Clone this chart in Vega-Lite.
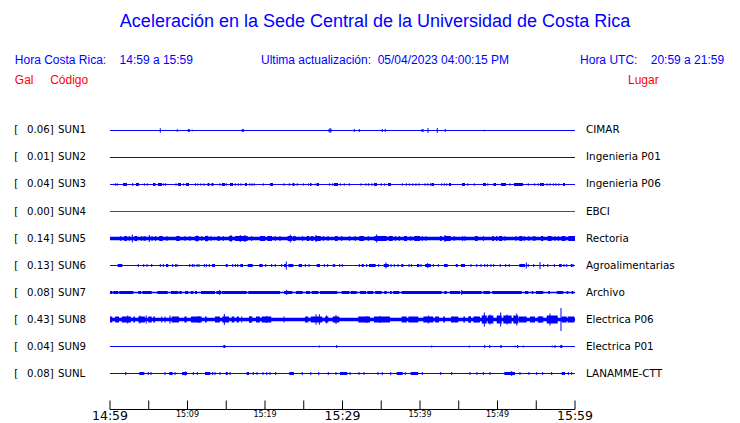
{
"$schema": "https://vega.github.io/schema/vega-lite/v6.json",
"width": 740, "height": 423,
"autosize": {"type": "fit", "contains": "padding"},
"padding": 0,
"background": "white",
"config": {"view": {"stroke": null}, "text": {"font": "DejaVu Sans"}},
"datasets": {
"stations": [
{"n":1,"code":"SUN1","gal":0.06,"lugar":"CIMAR"},
{"n":2,"code":"SUN2","gal":0.01,"lugar":"Ingenieria P01"},
{"n":3,"code":"SUN3","gal":0.04,"lugar":"Ingenieria P06"},
{"n":4,"code":"SUN4","gal":0.00,"lugar":"EBCI"},
{"n":5,"code":"SUN5","gal":0.14,"lugar":"Rectoria"},
{"n":6,"code":"SUN6","gal":0.13,"lugar":"Agroalimentarias"},
{"n":7,"code":"SUN7","gal":0.08,"lugar":"Archivo"},
{"n":8,"code":"SUN8","gal":0.43,"lugar":"Electrica P06"},
{"n":9,"code":"SUN9","gal":0.04,"lugar":"Electrica P01"},
{"n":10,"code":"SUNL","gal":0.08,"lugar":"LANAMME-CTT"}
],
"segs": [
{"n":1,"t0":0,"t1":60,"lvl":0.018},{"n":2,"t0":0,"t1":60,"lvl":0.018},{"n":3,"t0":0,"t1":60,"lvl":0.018},{"n":4,"t0":0,"t1":60,"lvl":0.018},{"n":5,"t0":0,"t1":60,"lvl":0.06},{"n":6,"t0":0,"t1":60,"lvl":0.018},{"n":7,"t0":0,"t1":60,"lvl":0.031},{"n":8,"t0":0,"t1":60,"lvl":0.06},{"n":9,"t0":0,"t1":60,"lvl":0.018},{"n":10,"t0":0,"t1":60,"lvl":0.018},
{"n":3,"t0":1.68,"t1":2.19,"lvl":0.055},{"n":3,"t0":3.35,"t1":3.74,"lvl":0.055},{"n":3,"t0":5.55,"t1":5.87,"lvl":0.055},{"n":3,"t0":6.19,"t1":6.71,"lvl":0.055},{"n":3,"t0":8.77,"t1":9.16,"lvl":0.055},{"n":3,"t0":9.81,"t1":10.19,"lvl":0.055},{"n":3,"t0":12.58,"t1":12.84,"lvl":0.055},{"n":3,"t0":13.10,"t1":13.35,"lvl":0.055},{"n":3,"t0":14.45,"t1":14.84,"lvl":0.055},{"n":3,"t0":15.48,"t1":15.87,"lvl":0.055},{"n":3,"t0":17.42,"t1":17.68,"lvl":0.055},{"n":3,"t0":20.65,"t1":21.03,"lvl":0.055},{"n":3,"t0":23.55,"t1":23.81,"lvl":0.055},{"n":3,"t0":25.81,"t1":26.0,"lvl":0.055},{"n":3,"t0":26.71,"t1":26.97,"lvl":0.055},{"n":3,"t0":28.90,"t1":29.42,"lvl":0.055},{"n":3,"t0":34.06,"t1":34.45,"lvl":0.055},{"n":3,"t0":35.87,"t1":36.26,"lvl":0.055},{"n":3,"t0":41.48,"t1":41.81,"lvl":0.055},{"n":3,"t0":43.74,"t1":44.0,"lvl":0.055},{"n":3,"t0":45.42,"t1":45.81,"lvl":0.055},{"n":3,"t0":48.13,"t1":48.52,"lvl":0.055},{"n":3,"t0":49.48,"t1":49.81,"lvl":0.055},{"n":3,"t0":50.45,"t1":51.10,"lvl":0.055},{"n":3,"t0":52.13,"t1":53.29,"lvl":0.055},{"n":3,"t0":55.48,"t1":56.0,"lvl":0.055},{"n":3,"t0":58.45,"t1":58.71,"lvl":0.055},
{"n":5,"t0":1.85,"t1":2.19,"lvl":0.091},{"n":5,"t0":3.14,"t1":3.52,"lvl":0.091},{"n":5,"t0":6.36,"t1":6.80,"lvl":0.091},{"n":5,"t0":8.55,"t1":8.99,"lvl":0.091},{"n":5,"t0":10.97,"t1":11.48,"lvl":0.091},{"n":5,"t0":12.26,"t1":12.68,"lvl":0.091},{"n":5,"t0":13.90,"t1":14.15,"lvl":0.091},{"n":5,"t0":15.35,"t1":15.78,"lvl":0.091},{"n":5,"t0":16.13,"t1":17.77,"lvl":0.091},{"n":5,"t0":19.35,"t1":20.0,"lvl":0.091},{"n":5,"t0":20.30,"t1":20.90,"lvl":0.091},{"n":5,"t0":22.93,"t1":23.52,"lvl":0.091},{"n":5,"t0":23.65,"t1":23.96,"lvl":0.091},{"n":5,"t0":25.38,"t1":25.72,"lvl":0.091},{"n":5,"t0":25.94,"t1":26.23,"lvl":0.091},{"n":5,"t0":26.45,"t1":27.19,"lvl":0.091},{"n":5,"t0":29.03,"t1":29.38,"lvl":0.091},{"n":5,"t0":32.17,"t1":32.77,"lvl":0.091},{"n":5,"t0":34.10,"t1":35.70,"lvl":0.091},{"n":5,"t0":35.96,"t1":36.48,"lvl":0.091},{"n":5,"t0":37.94,"t1":38.32,"lvl":0.091},{"n":5,"t0":39.26,"t1":40.0,"lvl":0.091},{"n":5,"t0":42.58,"t1":42.80,"lvl":0.091},{"n":5,"t0":43.14,"t1":43.96,"lvl":0.091},{"n":5,"t0":47.10,"t1":47.45,"lvl":0.091},{"n":5,"t0":49.33,"t1":49.55,"lvl":0.091},{"n":5,"t0":49.81,"t1":49.97,"lvl":0.091},{"n":5,"t0":50.19,"t1":50.62,"lvl":0.091},{"n":5,"t0":52.81,"t1":53.20,"lvl":0.091},{"n":5,"t0":55.61,"t1":55.91,"lvl":0.091},{"n":5,"t0":56.48,"t1":56.99,"lvl":0.091},{"n":5,"t0":58.28,"t1":58.75,"lvl":0.091},{"n":5,"t0":59.14,"t1":60.0,"lvl":0.091},
{"n":6,"t0":0.99,"t1":1.59,"lvl":0.055},{"n":6,"t0":7.23,"t1":7.52,"lvl":0.055},{"n":6,"t0":13.16,"t1":13.55,"lvl":0.055},{"n":6,"t0":14.93,"t1":15.19,"lvl":0.055},{"n":6,"t0":16.81,"t1":17.16,"lvl":0.055},{"n":6,"t0":17.77,"t1":18.41,"lvl":0.055},{"n":6,"t0":19.26,"t1":19.70,"lvl":0.055},{"n":6,"t0":22.45,"t1":22.71,"lvl":0.055},{"n":6,"t0":23.01,"t1":23.65,"lvl":0.055},{"n":6,"t0":24.35,"t1":24.77,"lvl":0.055},{"n":6,"t0":26.67,"t1":27.10,"lvl":0.055},{"n":6,"t0":32.48,"t1":32.74,"lvl":0.055},{"n":6,"t0":33.42,"t1":34.28,"lvl":0.055},{"n":6,"t0":35.32,"t1":35.96,"lvl":0.055},{"n":6,"t0":37.59,"t1":37.85,"lvl":0.055},{"n":6,"t0":39.61,"t1":39.91,"lvl":0.055},{"n":6,"t0":40.65,"t1":41.42,"lvl":0.055},{"n":6,"t0":43.10,"t1":43.57,"lvl":0.055},{"n":6,"t0":44.61,"t1":44.86,"lvl":0.055},{"n":6,"t0":45.29,"t1":45.81,"lvl":0.055},{"n":6,"t0":52.81,"t1":53.55,"lvl":0.055},{"n":6,"t0":57.94,"t1":58.28,"lvl":0.055},{"n":6,"t0":59.45,"t1":59.65,"lvl":0.055},
{"n":7,"t0":0,"t1":0.30,"lvl":0.055},{"n":7,"t0":0.43,"t1":1.07,"lvl":0.055},{"n":7,"t0":1.20,"t1":3.01,"lvl":0.055},{"n":7,"t0":3.65,"t1":4.0,"lvl":0.055},{"n":7,"t0":4.17,"t1":5.38,"lvl":0.055},{"n":7,"t0":6.10,"t1":7.45,"lvl":0.055},{"n":7,"t0":7.87,"t1":8.81,"lvl":0.055},{"n":7,"t0":8.94,"t1":9.25,"lvl":0.055},{"n":7,"t0":9.68,"t1":10.10,"lvl":0.055},{"n":7,"t0":10.41,"t1":10.75,"lvl":0.055},{"n":7,"t0":10.97,"t1":11.23,"lvl":0.055},{"n":7,"t0":11.74,"t1":13.55,"lvl":0.055},{"n":7,"t0":13.72,"t1":14.32,"lvl":0.055},{"n":7,"t0":14.41,"t1":17.64,"lvl":0.055},{"n":7,"t0":17.85,"t1":21.94,"lvl":0.055},{"n":7,"t0":22.45,"t1":23.52,"lvl":0.055},{"n":7,"t0":24.0,"t1":24.86,"lvl":0.055},{"n":7,"t0":25.29,"t1":25.81,"lvl":0.055},{"n":7,"t0":26.03,"t1":26.88,"lvl":0.055},{"n":7,"t0":27.10,"t1":29.33,"lvl":0.055},{"n":7,"t0":29.90,"t1":30.88,"lvl":0.055},{"n":7,"t0":31.06,"t1":31.83,"lvl":0.055},{"n":7,"t0":32.26,"t1":33.03,"lvl":0.055},{"n":7,"t0":33.20,"t1":33.97,"lvl":0.055},{"n":7,"t0":34.23,"t1":35.06,"lvl":0.055},{"n":7,"t0":35.39,"t1":35.70,"lvl":0.055},{"n":7,"t0":36.13,"t1":36.35,"lvl":0.055},{"n":7,"t0":36.55,"t1":37.33,"lvl":0.055},{"n":7,"t0":37.64,"t1":42.80,"lvl":0.055},{"n":7,"t0":43.14,"t1":43.45,"lvl":0.055},{"n":7,"t0":43.87,"t1":45.16,"lvl":0.055},{"n":7,"t0":45.38,"t1":47.96,"lvl":0.055},{"n":7,"t0":48.17,"t1":49.03,"lvl":0.055},{"n":7,"t0":49.33,"t1":53.12,"lvl":0.055},{"n":7,"t0":53.55,"t1":53.97,"lvl":0.055},{"n":7,"t0":54.41,"t1":54.62,"lvl":0.055},{"n":7,"t0":54.97,"t1":55.91,"lvl":0.055},{"n":7,"t0":56.55,"t1":56.77,"lvl":0.055},{"n":7,"t0":57.64,"t1":58.49,"lvl":0.055},{"n":7,"t0":58.93,"t1":59.14,"lvl":0.055},{"n":7,"t0":59.57,"t1":59.78,"lvl":0.055},
{"n":8,"t0":0,"t1":0.30,"lvl":0.109},{"n":8,"t0":0.65,"t1":1.16,"lvl":0.109},{"n":8,"t0":1.51,"t1":2.71,"lvl":0.109},{"n":8,"t0":3.01,"t1":3.23,"lvl":0.109},{"n":8,"t0":3.65,"t1":4.52,"lvl":0.109},{"n":8,"t0":4.94,"t1":5.38,"lvl":0.109},{"n":8,"t0":5.59,"t1":5.81,"lvl":0.109},{"n":8,"t0":7.96,"t1":8.90,"lvl":0.109},{"n":8,"t0":9.59,"t1":9.90,"lvl":0.109},{"n":8,"t0":10.45,"t1":11.83,"lvl":0.109},{"n":8,"t0":12.26,"t1":12.48,"lvl":0.109},{"n":8,"t0":13.55,"t1":14.19,"lvl":0.109},{"n":8,"t0":14.49,"t1":15.35,"lvl":0.109},{"n":8,"t0":15.70,"t1":16.04,"lvl":0.109},{"n":8,"t0":16.35,"t1":16.65,"lvl":0.109},{"n":8,"t0":17.94,"t1":18.36,"lvl":0.109},{"n":8,"t0":18.84,"t1":19.35,"lvl":0.109},{"n":8,"t0":19.57,"t1":20.81,"lvl":0.109},{"n":8,"t0":25.16,"t1":25.59,"lvl":0.109},{"n":8,"t0":25.90,"t1":27.39,"lvl":0.109},{"n":8,"t0":27.74,"t1":28.17,"lvl":0.109},{"n":8,"t0":28.74,"t1":29.59,"lvl":0.109},{"n":8,"t0":32.04,"t1":33.55,"lvl":0.109},{"n":8,"t0":34.06,"t1":36.13,"lvl":0.109},{"n":8,"t0":37.64,"t1":38.28,"lvl":0.109},{"n":8,"t0":38.49,"t1":39.78,"lvl":0.109},{"n":8,"t0":40.43,"t1":41.72,"lvl":0.109},{"n":8,"t0":41.94,"t1":42.45,"lvl":0.109},{"n":8,"t0":43.01,"t1":43.23,"lvl":0.109},{"n":8,"t0":44.0,"t1":44.94,"lvl":0.109},{"n":8,"t0":45.59,"t1":45.81,"lvl":0.109},{"n":8,"t0":46.23,"t1":46.58,"lvl":0.109},{"n":8,"t0":46.88,"t1":47.74,"lvl":0.109},{"n":8,"t0":47.96,"t1":48.61,"lvl":0.145},{"n":8,"t0":48.74,"t1":49.46,"lvl":0.145},{"n":8,"t0":49.90,"t1":50.54,"lvl":0.145},{"n":8,"t0":50.75,"t1":51.83,"lvl":0.145},{"n":8,"t0":52.04,"t1":52.68,"lvl":0.145},{"n":8,"t0":52.77,"t1":53.77,"lvl":0.109},{"n":8,"t0":54.19,"t1":54.84,"lvl":0.109},{"n":8,"t0":55.19,"t1":55.91,"lvl":0.109},{"n":8,"t0":56.35,"t1":57.77,"lvl":0.145},{"n":8,"t0":58.28,"t1":58.93,"lvl":0.109},{"n":8,"t0":59.06,"t1":59.91,"lvl":0.109},
{"n":9,"t0":14.62,"t1":14.88,"lvl":0.055},{"n":9,"t0":50.36,"t1":50.54,"lvl":0.055},{"n":9,"t0":52.52,"t1":52.68,"lvl":0.055},{"n":9,"t0":58.10,"t1":58.36,"lvl":0.055},
{"n":10,"t0":3.78,"t1":4.43,"lvl":0.055},{"n":10,"t0":7.65,"t1":8.09,"lvl":0.055},{"n":10,"t0":9.29,"t1":9.94,"lvl":0.055},{"n":10,"t0":12.26,"t1":12.94,"lvl":0.055},{"n":10,"t0":14.93,"t1":15.19,"lvl":0.055},{"n":10,"t0":17.64,"t1":17.94,"lvl":0.055},{"n":10,"t0":23.14,"t1":23.74,"lvl":0.055},{"n":10,"t0":29.68,"t1":30.62,"lvl":0.055},{"n":10,"t0":36.99,"t1":37.77,"lvl":0.055},{"n":10,"t0":38.80,"t1":39.78,"lvl":0.055},{"n":10,"t0":50.88,"t1":52.26,"lvl":0.055},{"n":10,"t0":58.28,"t1":58.71,"lvl":0.055}
],
"spikes": [
{"n":1,"t":6.49,"a":0.085},{"n":1,"t":8.68,"a":0.045},{"n":1,"t":10.10,"a":0.055},{"n":1,"t":10.23,"a":0.055},{"n":1,"t":10.62,"a":0.027},{"n":1,"t":17.07,"a":0.055},{"n":1,"t":17.20,"a":0.055},{"n":1,"t":28.26,"a":0.055},{"n":1,"t":28.39,"a":0.091},{"n":1,"t":28.52,"a":0.064},{"n":1,"t":31.52,"a":0.055},{"n":1,"t":32.17,"a":0.055},{"n":1,"t":35.14,"a":0.055},{"n":1,"t":35.52,"a":0.055},{"n":1,"t":40.26,"a":0.055},{"n":1,"t":40.39,"a":0.055},{"n":1,"t":41.03,"a":0.091},{"n":1,"t":42.23,"a":0.091},{"n":1,"t":43.26,"a":0.055},{"n":1,"t":48.30,"a":0.027},
{"n":3,"t":0.68,"a":0.045},{"n":3,"t":0.94,"a":0.045},{"n":3,"t":2.93,"a":0.055},{"n":3,"t":4.43,"a":0.045},{"n":3,"t":4.81,"a":0.045},{"n":3,"t":6.93,"a":0.045},{"n":3,"t":7.19,"a":0.045},{"n":3,"t":8.52,"a":0.045},{"n":3,"t":9.51,"a":0.045},{"n":3,"t":11.01,"a":0.045},{"n":3,"t":11.32,"a":0.045},{"n":3,"t":11.74,"a":0.045},{"n":3,"t":12.13,"a":0.045},{"n":3,"t":14.19,"a":0.045},{"n":3,"t":15.01,"a":0.045},{"n":3,"t":16.17,"a":0.045},{"n":3,"t":16.55,"a":0.045},{"n":3,"t":16.90,"a":0.045},{"n":3,"t":18.03,"a":0.045},{"n":3,"t":18.32,"a":0.045},{"n":3,"t":18.58,"a":0.045},{"n":3,"t":19.78,"a":0.045},{"n":3,"t":22.45,"a":0.045},{"n":3,"t":23.14,"a":0.045},{"n":3,"t":24.17,"a":0.045},{"n":3,"t":24.94,"a":0.045},{"n":3,"t":25.59,"a":0.045},{"n":3,"t":26.58,"a":0.045},{"n":3,"t":28.35,"a":0.045},{"n":3,"t":28.74,"a":0.045},{"n":3,"t":29.72,"a":0.045},{"n":3,"t":30.23,"a":0.045},{"n":3,"t":30.88,"a":0.045},{"n":3,"t":32.39,"a":0.045},{"n":3,"t":33.03,"a":0.045},{"n":3,"t":33.38,"a":0.045},{"n":3,"t":33.81,"a":0.045},{"n":3,"t":35.01,"a":0.045},{"n":3,"t":35.45,"a":0.045},{"n":3,"t":37.72,"a":0.045},{"n":3,"t":38.23,"a":0.045},{"n":3,"t":38.62,"a":0.045},{"n":3,"t":39.06,"a":0.045},{"n":3,"t":39.48,"a":0.045},{"n":3,"t":39.87,"a":0.045},{"n":3,"t":40.65,"a":0.045},{"n":3,"t":40.99,"a":0.045},{"n":3,"t":41.38,"a":0.045},{"n":3,"t":42.80,"a":0.045},{"n":3,"t":43.14,"a":0.045},{"n":3,"t":43.45,"a":0.045},{"n":3,"t":46.15,"a":0.045},{"n":3,"t":47.01,"a":0.045},{"n":3,"t":48.74,"a":0.045},{"n":3,"t":51.61,"a":0.045},{"n":3,"t":53.97,"a":0.045},{"n":3,"t":54.80,"a":0.045},{"n":3,"t":55.26,"a":0.045},{"n":3,"t":56.39,"a":0.045},{"n":3,"t":56.77,"a":0.045},{"n":3,"t":57.20,"a":0.045},{"n":3,"t":57.51,"a":0.045},{"n":3,"t":57.90,"a":0.045},
{"n":5,"t":1.38,"a":0.091},{"n":5,"t":2.49,"a":0.091},{"n":5,"t":2.88,"a":0.145},{"n":5,"t":4.04,"a":0.091},{"n":5,"t":4.39,"a":0.091},{"n":5,"t":4.52,"a":0.091},{"n":5,"t":5.07,"a":0.127},{"n":5,"t":5.42,"a":0.091},{"n":5,"t":5.85,"a":0.091},{"n":5,"t":7.35,"a":0.091},{"n":5,"t":9.68,"a":0.091},{"n":5,"t":10.32,"a":0.091},{"n":5,"t":11.23,"a":0.109},{"n":5,"t":11.83,"a":0.091},{"n":5,"t":12.52,"a":0.109},{"n":5,"t":13.03,"a":0.091},{"n":5,"t":14.62,"a":0.091},{"n":5,"t":15.61,"a":0.127},{"n":5,"t":16.81,"a":0.127},{"n":5,"t":17.42,"a":0.127},{"n":5,"t":18.28,"a":0.091},{"n":5,"t":21.33,"a":0.091},{"n":5,"t":21.94,"a":0.091},{"n":5,"t":23.26,"a":0.145},{"n":5,"t":24.86,"a":0.091},{"n":5,"t":26.58,"a":0.127},{"n":5,"t":27.52,"a":0.091},{"n":5,"t":28.13,"a":0.091},{"n":5,"t":29.90,"a":0.091},{"n":5,"t":30.88,"a":0.091},{"n":5,"t":31.65,"a":0.091},{"n":5,"t":33.33,"a":0.091},{"n":5,"t":34.41,"a":0.145},{"n":5,"t":36.81,"a":0.091},{"n":5,"t":37.33,"a":0.091},{"n":5,"t":38.80,"a":0.091},{"n":5,"t":40.30,"a":0.091},{"n":5,"t":40.77,"a":0.091},{"n":5,"t":43.23,"a":0.127},{"n":5,"t":44.43,"a":0.091},{"n":5,"t":45.51,"a":0.091},{"n":5,"t":45.81,"a":0.091},{"n":5,"t":48.17,"a":0.091},{"n":5,"t":50.97,"a":0.091},{"n":5,"t":52.39,"a":0.091},{"n":5,"t":53.46,"a":0.091},{"n":5,"t":54.06,"a":0.091},{"n":5,"t":54.62,"a":0.091},{"n":5,"t":54.84,"a":0.091},{"n":5,"t":57.42,"a":0.091},{"n":5,"t":57.85,"a":0.091},
{"n":6,"t":3.65,"a":0.055},{"n":6,"t":4.35,"a":0.055},{"n":6,"t":4.77,"a":0.055},{"n":6,"t":5.38,"a":0.055},{"n":6,"t":6.49,"a":0.055},{"n":6,"t":6.88,"a":0.055},{"n":6,"t":8.09,"a":0.055},{"n":6,"t":8.48,"a":0.055},{"n":6,"t":8.65,"a":0.055},{"n":6,"t":10.28,"a":0.055},{"n":6,"t":10.62,"a":0.055},{"n":6,"t":10.84,"a":0.055},{"n":6,"t":11.23,"a":0.055},{"n":6,"t":11.48,"a":0.055},{"n":6,"t":12.17,"a":0.055},{"n":6,"t":12.43,"a":0.055},{"n":6,"t":12.81,"a":0.055},{"n":6,"t":15.83,"a":0.055},{"n":6,"t":16.17,"a":0.055},{"n":6,"t":16.48,"a":0.055},{"n":6,"t":20.09,"a":0.055},{"n":6,"t":20.86,"a":0.055},{"n":6,"t":21.33,"a":0.055},{"n":6,"t":22.15,"a":0.055},{"n":6,"t":22.75,"a":0.145},{"n":6,"t":25.2,"a":0.055},{"n":6,"t":25.68,"a":0.055},{"n":6,"t":27.65,"a":0.055},{"n":6,"t":28.09,"a":0.055},{"n":6,"t":28.81,"a":0.055},{"n":6,"t":28.99,"a":0.055},{"n":6,"t":29.64,"a":0.055},{"n":6,"t":29.97,"a":0.055},{"n":6,"t":32.17,"a":0.055},{"n":6,"t":33.12,"a":0.055},{"n":6,"t":34.67,"a":0.055},{"n":6,"t":35.61,"a":0.109},{"n":6,"t":36.26,"a":0.055},{"n":6,"t":36.68,"a":0.055},{"n":6,"t":37.16,"a":0.055},{"n":6,"t":38.58,"a":0.055},{"n":6,"t":38.88,"a":0.055},{"n":6,"t":40.13,"a":0.055},{"n":6,"t":40.99,"a":0.091},{"n":6,"t":41.72,"a":0.055},{"n":6,"t":42.36,"a":0.055},{"n":6,"t":46.58,"a":0.055},{"n":6,"t":47.32,"a":0.055},{"n":6,"t":47.87,"a":0.055},{"n":6,"t":48.35,"a":0.055},{"n":6,"t":48.68,"a":0.055},{"n":6,"t":49.16,"a":0.055},{"n":6,"t":49.51,"a":0.055},{"n":6,"t":50.36,"a":0.055},{"n":6,"t":51.06,"a":0.055},{"n":6,"t":51.52,"a":0.055},{"n":6,"t":53.72,"a":0.109},{"n":6,"t":53.97,"a":0.055},{"n":6,"t":54.67,"a":0.055},{"n":6,"t":55.48,"a":0.127},{"n":6,"t":55.96,"a":0.055},{"n":6,"t":56.48,"a":0.055},{"n":6,"t":57.33,"a":0.055},{"n":6,"t":58.58,"a":0.055},{"n":6,"t":58.93,"a":0.055},{"n":6,"t":59.74,"a":0.055},
{"n":7,"t":14.15,"a":0.091},{"n":7,"t":22.80,"a":0.091},{"n":7,"t":45.38,"a":0.091},
{"n":8,"t":2.28,"a":0.145},{"n":8,"t":3.87,"a":0.145},{"n":8,"t":4.68,"a":0.145},{"n":8,"t":6.67,"a":0.109},{"n":8,"t":7.10,"a":0.109},{"n":8,"t":7.74,"a":0.145},{"n":8,"t":11.48,"a":0.127},{"n":8,"t":14.75,"a":0.2},{"n":8,"t":16.99,"a":0.109},{"n":8,"t":18.06,"a":0.127},{"n":8,"t":20.22,"a":0.127},{"n":8,"t":22.45,"a":0.109},{"n":8,"t":26.58,"a":0.195},{"n":8,"t":27.01,"a":0.195},{"n":8,"t":27.96,"a":0.145},{"n":8,"t":29.16,"a":0.164},{"n":8,"t":33.12,"a":0.127},{"n":8,"t":34.84,"a":0.127},{"n":8,"t":41.07,"a":0.145},{"n":8,"t":46.45,"a":0.127},{"n":8,"t":47.23,"a":0.109},{"n":8,"t":48.30,"a":0.255},{"n":8,"t":49.03,"a":0.182},{"n":8,"t":50.41,"a":0.255},{"n":8,"t":51.23,"a":0.182},{"n":8,"t":52.48,"a":0.218},{"n":8,"t":55.48,"a":0.127},{"n":8,"t":56.77,"a":0.218},{"n":8,"t":58.19,"a":0.418},
{"n":9,"t":27.01,"a":0.036},{"n":9,"t":29.25,"a":0.055},{"n":9,"t":41.51,"a":0.036},{"n":9,"t":46.36,"a":0.036},{"n":9,"t":48.35,"a":0.055},{"n":9,"t":48.99,"a":0.055},{"n":9,"t":52.26,"a":0.036},{"n":9,"t":53.33,"a":0.036},{"n":9,"t":57.07,"a":0.036},{"n":9,"t":57.42,"a":0.055},
{"n":10,"t":2.03,"a":0.055},{"n":10,"t":4.94,"a":0.055},{"n":10,"t":5.29,"a":0.055},{"n":10,"t":7.10,"a":0.055},{"n":10,"t":8.39,"a":0.055},{"n":10,"t":9.72,"a":0.073},{"n":10,"t":10.75,"a":0.055},{"n":10,"t":11.26,"a":0.055},{"n":10,"t":13.25,"a":0.055},{"n":10,"t":13.55,"a":0.055},{"n":10,"t":14.19,"a":0.055},{"n":10,"t":15.48,"a":0.055},{"n":10,"t":18.49,"a":0.055},{"n":10,"t":18.97,"a":0.055},{"n":10,"t":19.74,"a":0.055},{"n":10,"t":20.22,"a":0.055},{"n":10,"t":20.65,"a":0.055},{"n":10,"t":21.38,"a":0.055},{"n":10,"t":24.81,"a":0.055},{"n":10,"t":25.90,"a":0.055},{"n":10,"t":26.93,"a":0.055},{"n":10,"t":28.17,"a":0.055},{"n":10,"t":29.16,"a":0.055},{"n":10,"t":30.97,"a":0.055},{"n":10,"t":32.13,"a":0.055},{"n":10,"t":32.77,"a":0.055},{"n":10,"t":34.58,"a":0.055},{"n":10,"t":35.14,"a":0.055},{"n":10,"t":36.22,"a":0.055},{"n":10,"t":38.10,"a":0.055},{"n":10,"t":40.30,"a":0.055},{"n":10,"t":42.67,"a":0.055},{"n":10,"t":44.09,"a":0.055},{"n":10,"t":46.45,"a":0.055},{"n":10,"t":47.35,"a":0.055},{"n":10,"t":48.17,"a":0.055},{"n":10,"t":49.03,"a":0.055},{"n":10,"t":51.83,"a":0.091},{"n":10,"t":52.90,"a":0.055},{"n":10,"t":54.06,"a":0.055},{"n":10,"t":55.06,"a":0.055},{"n":10,"t":55.83,"a":0.055},{"n":10,"t":56.99,"a":0.055},{"n":10,"t":59.14,"a":0.055},{"n":10,"t":59.57,"a":0.055}
],
"xticks": [{"t":0},{"t":5},{"t":10},{"t":15},{"t":20},{"t":25},{"t":30},{"t":35},{"t":40},{"t":45},{"t":50},{"t":55},{"t":60}],
"xlabels": [{"t":0,"lab":"14:59","major":true},{"t":10,"lab":"15:09","major":false},{"t":20,"lab":"15:19","major":false},{"t":30,"lab":"15:29","major":true},{"t":40,"lab":"15:39","major":false},{"t":50,"lab":"15:49","major":false},{"t":60,"lab":"15:59","major":true}]
},
"layer": [
{
"data": {"name": "segs"},
"mark": {"type": "rule"},
"encoding": {
"x": {"field": "t0", "type": "quantitative", "scale": {"domain": [-14.1935, 81.2903], "nice": false, "zero": false}, "axis": null},
"x2": {"field": "t1"},
"y": {"field": "n", "type": "quantitative", "scale": {"domain": [-3.8333, 11.8333], "reverse": true, "nice": false, "zero": false}, "axis": null},
"strokeWidth": {"field": "lvl", "type": "quantitative", "scale": {"domain": [0, 0.43], "range": [0, 23.65], "zero": true}, "legend": null},
"color": {"field": "n", "type": "nominal", "scale": {"domain": [1,2,3,4,5,6,7,8,9,10], "range": ["#0000ff","#0000ff","#0000ff","#ff0000","#0000ff","#0000ff","#0000ff","#0000ff","#0000ff","#0000ff"]}, "legend": null}
}
},
{
"data": {"name": "spikes"},
"mark": {"type": "tick", "orient": "vertical", "thickness": 1, "opacity": 1, "color": "#0000ff"},
"encoding": {
"x": {"field": "t", "type": "quantitative"},
"y": {"field": "n", "type": "quantitative"},
"size": {"field": "a", "type": "quantitative", "scale": {"domain": [0, 0.43], "range": [0, 23.65], "zero": true}, "legend": null}
}
},
{
"data": {"values": [{}]},
"mark": {"type": "rule", "color": "black", "strokeWidth": 1},
"encoding": {"x": {"datum": 0, "type": "quantitative"}, "x2": {"datum": 60}, "y": {"datum": 11.333, "type": "quantitative"}}
},
{
"data": {"name": "xticks"},
"mark": {"type": "rule", "color": "black", "strokeWidth": 1},
"encoding": {"x": {"field": "t", "type": "quantitative"}, "y": {"datum": 11.0, "type": "quantitative"}, "y2": {"datum": 11.333}}
},
{
"data": {"name": "xlabels"},
"transform": [{"filter": "datum.major"}],
"mark": {"type": "text", "align": "center", "baseline": "middle", "fontSize": 12.5, "color": "black"},
"encoding": {"x": {"field": "t", "type": "quantitative"}, "y": {"datum": 11.59, "type": "quantitative"}, "text": {"field": "lab"}}
},
{
"data": {"name": "xlabels"},
"transform": [{"filter": "!datum.major"}],
"mark": {"type": "text", "align": "center", "baseline": "middle", "fontSize": 8, "color": "black"},
"encoding": {"x": {"field": "t", "type": "quantitative"}, "y": {"datum": 11.54, "type": "quantitative"}, "text": {"field": "lab"}}
},
{
"data": {"name": "stations"},
"mark": {"type": "text", "align": "left", "baseline": "middle", "fontSize": 10.2, "color": "black", "text": "["},
"encoding": {"x": {"datum": -12.37, "type": "quantitative"}, "y": {"field": "n", "type": "quantitative"}}
},
{
"data": {"name": "stations"},
"mark": {"type": "text", "align": "left", "baseline": "middle", "fontSize": 10.2, "color": "black"},
"encoding": {"x": {"datum": -10.71, "type": "quantitative"}, "y": {"field": "n", "type": "quantitative"}, "text": {"field": "gal", "type": "quantitative", "format": ".2f"}}
},
{
"data": {"name": "stations"},
"mark": {"type": "text", "align": "left", "baseline": "middle", "fontSize": 10.2, "color": "black", "text": "]"},
"encoding": {"x": {"datum": -7.78, "type": "quantitative"}, "y": {"field": "n", "type": "quantitative"}}
},
{
"data": {"name": "stations"},
"mark": {"type": "text", "align": "left", "baseline": "middle", "fontSize": 10.2, "color": "black"},
"encoding": {"x": {"datum": -6.71, "type": "quantitative"}, "y": {"field": "n", "type": "quantitative"}, "text": {"field": "code"}}
},
{
"data": {"name": "stations"},
"mark": {"type": "text", "align": "left", "baseline": "middle", "fontSize": 10.4, "color": "black"},
"encoding": {"x": {"datum": 61.42, "type": "quantitative"}, "y": {"field": "n", "type": "quantitative"}, "text": {"field": "lugar"}}
},
{
"data": {"values": [{}]},
"mark": {"type": "text", "align": "center", "baseline": "middle", "font": "Liberation Sans", "fontSize": 18, "color": "#0000ff", "text": "Aceleración en la Sede Central de la Universidad de Costa Rica"},
"encoding": {"x": {"datum": 34.194, "type": "quantitative"}, "y": {"datum": -3.0185, "type": "quantitative"}}
},
{
"data": {"values": [{}]},
"mark": {"type": "text", "align": "left", "baseline": "middle", "font": "Liberation Sans", "fontSize": 12, "color": "#0000ff", "text": "Hora Costa Rica:\u00a0\u00a0\u00a0\u00a014:59 a 15:59"},
"encoding": {"x": {"datum": -12.28, "type": "quantitative"}, "y": {"datum": -1.611, "type": "quantitative"}}
},
{
"data": {"values": [{}]},
"mark": {"type": "text", "align": "left", "baseline": "middle", "font": "Liberation Sans", "fontSize": 12, "color": "#0000ff", "text": "Ultima actualización:\u00a0\u00a005/04/2023 04:00:15 PM"},
"encoding": {"x": {"datum": 19.48, "type": "quantitative"}, "y": {"datum": -1.611, "type": "quantitative"}}
},
{
"data": {"values": [{}]},
"mark": {"type": "text", "align": "left", "baseline": "middle", "font": "Liberation Sans", "fontSize": 12, "color": "#0000ff", "text": "Hora UTC:\u00a0\u00a0\u00a0\u00a020:59 a 21:59"},
"encoding": {"x": {"datum": 60.65, "type": "quantitative"}, "y": {"datum": -1.611, "type": "quantitative"}}
},
{
"data": {"values": [{}]},
"mark": {"type": "text", "align": "left", "baseline": "middle", "font": "Liberation Sans", "fontSize": 12, "color": "#ff0000", "text": "Gal\u00a0\u00a0\u00a0\u00a0\u00a0Código"},
"encoding": {"x": {"datum": -12.28, "type": "quantitative"}, "y": {"datum": -0.8704, "type": "quantitative"}}
},
{
"data": {"values": [{}]},
"mark": {"type": "text", "align": "left", "baseline": "middle", "font": "Liberation Sans", "fontSize": 12, "color": "#ff0000", "text": "Lugar"},
"encoding": {"x": {"datum": 66.84, "type": "quantitative"}, "y": {"datum": -0.8704, "type": "quantitative"}}
}
]
}
